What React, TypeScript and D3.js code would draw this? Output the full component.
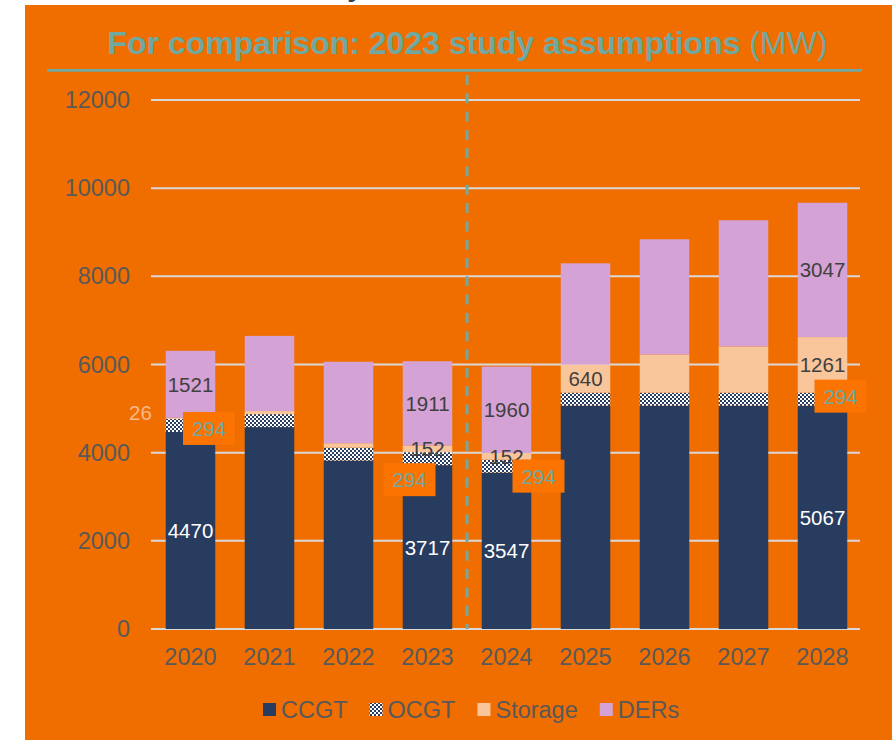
import React from "react";
import * as d3 from "d3";

const years = ["2020", "2021", "2022", "2023", "2024", "2025", "2026", "2027", "2028"];
const ccgt = [4470, 4580, 3820, 3717, 3547, 5067, 5067, 5067, 5067];
const ocgt = [294, 294, 294, 294, 294, 294, 294, 294, 294];
const storage = [26, 70, 100, 152, 152, 640, 866, 1048, 1261];
const ders = [1521, 1705, 1848, 1911, 1960, 2294, 2614, 2864, 3047];
const yTicks = [0, 2000, 4000, 6000, 8000, 10000, 12000];
const seriesNames = ["CCGT", "OCGT", "Storage", "DERs"];

// which bar values carry a data label
const ccgtLabelled = ["2020", "2023", "2024", "2028"];
const ocgtLabelled = ["2020", "2023", "2024", "2028"];
const storageLabelled = ["2023", "2024", "2025", "2028"];
const dersLabelled = ["2020", "2023", "2024", "2028"];
// manually nudged label boxes (dx, dy from segment centre)
const ocgtLabelOffsets: Record<string, [number, number]> = {
  "2020": [18.5, 3],
  "2023": [-18, 21],
  "2024": [32, 10],
  "2028": [18, -3],
};
const storageOffsetLabels: Record<string, [number, number]> = { "2020": [-50, -6] };

const BG = "#F06E00";
const TEAL = "#6FA9A1";
const NAVY = "#283C5F";
const PEACH = "#F9C69B";
const LAV = "#D4A2D4";
const FONT = "'Liberation Sans', Arial, sans-serif";

function measure(text: string, size: number) {
  const c = document.createElement("canvas").getContext("2d");
  if (!c) return text.length * size * 0.6;
  c.font = `${size}px 'Liberation Sans', Arial, sans-serif`;
  return c.measureText(text).width;
}

export default function App() {
  const W = 892;
  const H = 740;
  const x = d3
    .scaleBand<string>()
    .domain(years)
    .range([151, 862])
    .paddingInner(0.373)
    .paddingOuter(0.1865);
  const y = d3.scaleLinear().domain([0, 12000]).range([629, 100]);
  const bw = x.bandwidth();

  const rows = years.map((yr, i) => ({
    year: yr,
    CCGT: ccgt[i],
    OCGT: ocgt[i],
    Storage: storage[i],
    DERs: ders[i],
  }));
  const stack = d3.stack<any>().keys(seriesNames)(rows);
  const fills: Record<string, string> = {
    CCGT: NAVY,
    OCGT: "url(#checker)",
    Storage: PEACH,
    DERs: LAV,
  };

  const divX = (x("2023")! + bw + x("2024")!) / 2;

  const legendSize = 23.5;
  let lx = 263;
  const legendItems = seriesNames.map((n) => {
    const item = { name: n, x: lx };
    lx += 13 + 5 + measure(n, legendSize) + 22;
    return item;
  });

  const labelFor = (key: string) => {
    const s = stack.find((st) => st.key === key)!;
    return s;
  };

  const simpleLabels = (
    key: string,
    list: string[],
    color: string
  ) => {
    const s = labelFor(key);
    return s
      .filter((d) => list.includes(d.data.year))
      .map((d) => (
        <text
          key={key + d.data.year}
          x={x(d.data.year)! + bw / 2}
          y={(y(d[0]) + y(d[1])) / 2}
          textAnchor="middle"
          dominantBaseline="central"
          fontSize={20.5}
          fill={color}
        >
          {d.data[key]}
        </text>
      ));
  };

  return (
    <svg
      width={W}
      height={H}
      style={{ position: "absolute", left: 0, top: 0, fontFamily: FONT }}
    >
      <defs>
        <pattern id="checker" width={4} height={4} patternUnits="userSpaceOnUse">
          <rect width={4} height={4} fill="#ffffff" />
          <rect width={2} height={2} fill={NAVY} />
          <rect x={2} y={2} width={2} height={2} fill={NAVY} />
        </pattern>
      </defs>
      <rect x={0} y={0} width={W} height={H} fill="#ffffff" />
      <text x={355} y={-4} fontSize={28} fontWeight="bold" fill="#333F50" textAnchor="middle">
        y
      </text>
      <rect x={25} y={5} width={W - 25} height={H - 5} fill={BG} />

      {/* title */}
      <text x={467.5} y={54} textAnchor="middle" fontSize={32} fill={TEAL}>
        <tspan fontWeight="bold">For comparison: 2023 study assumptions </tspan>
        <tspan>(MW)</tspan>
      </text>
      <line x1={47} x2={862} y1={70.3} y2={70.3} stroke={TEAL} strokeWidth={2.7} />

      {/* gridlines */}
      {yTicks.map((t) => (
        <g key={t}>
          <line x1={151} x2={860} y1={y(t)} y2={y(t)} stroke="#D9D9D9" strokeWidth={2} />
          <text
            x={130}
            y={y(t)}
            textAnchor="end"
            dominantBaseline="central"
            fontSize={23.5}
            fill="#595959"
          >
            {t}
          </text>
        </g>
      ))}

      {/* bars */}
      {stack.map((s) => (
        <g key={s.key}>
          {s.map((d) => (
            <rect
              key={d.data.year}
              x={x(d.data.year)}
              y={y(d[1])}
              width={bw}
              height={y(d[0]) - y(d[1])}
              fill={fills[s.key]}
            />
          ))}
        </g>
      ))}

      {/* divider */}
      <line
        x1={divX}
        x2={divX}
        y1={75}
        y2={629}
        stroke={TEAL}
        strokeWidth={3}
        strokeDasharray="10 8.3"
      />

      {/* labels */}
      {simpleLabels("CCGT", ccgtLabelled, "#ffffff")}
      {simpleLabels("Storage", storageLabelled, "#404040")}
      {simpleLabels("DERs", dersLabelled, "#404040")}
      {labelFor("Storage")
        .filter((d) => storageOffsetLabels[d.data.year])
        .map((d) => {
          const [dx, dy] = storageOffsetLabels[d.data.year];
          return (
            <text
              key={"so" + d.data.year}
              x={x(d.data.year)! + bw / 2 + dx}
              y={(y(d[0]) + y(d[1])) / 2 + dy}
              textAnchor="middle"
              dominantBaseline="central"
              fontSize={20.5}
              fill="#F7B98A"
            >
              {d.data.Storage}
            </text>
          );
        })}
      {labelFor("OCGT")
        .filter((d) => ocgtLabelled.includes(d.data.year))
        .map((d) => {
          const [dx, dy] = ocgtLabelOffsets[d.data.year];
          const cx = x(d.data.year)! + bw / 2 + dx;
          const cy = (y(d[0]) + y(d[1])) / 2 + dy;
          return (
            <g key={"oc" + d.data.year}>
              <rect x={cx - 26} y={cy - 16.5} width={52} height={33} fill="#FB7300" />
              <text
                x={cx}
                y={cy}
                textAnchor="middle"
                dominantBaseline="central"
                fontSize={20.5}
                fill={TEAL}
              >
                {d.data.OCGT}
              </text>
            </g>
          );
        })}

      {/* x axis labels */}
      {years.map((yr) => (
        <text
          key={yr}
          x={x(yr)! + bw / 2}
          y={657}
          textAnchor="middle"
          dominantBaseline="central"
          fontSize={23.5}
          fill="#595959"
        >
          {yr}
        </text>
      ))}

      {/* legend */}
      {legendItems.map((it) => (
        <g key={it.name}>
          <rect x={it.x} y={703} width={13} height={13} fill={fills[it.name]} />
          <text
            x={it.x + 18}
            y={709.5}
            dominantBaseline="central"
            fontSize={legendSize}
            fill="#595959"
          >
            {it.name}
          </text>
        </g>
      ))}
    </svg>
  );
}
